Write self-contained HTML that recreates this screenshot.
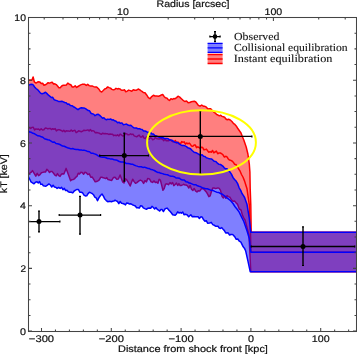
<!DOCTYPE html>
<html><head><meta charset="utf-8"><style>
html,body{margin:0;padding:0;background:#fff;width:357px;height:354px;overflow:hidden}
svg{display:block;will-change:transform}
</style></head><body>
<svg width="357" height="354" viewBox="0 0 357 354"><defs><clipPath id="ax"><rect x="28.5" y="17.5" width="328" height="314"/></clipPath></defs><g clip-path="url(#ax)"><path d="M28.00,80.60 L29.95,80.06 L31.90,80.30 L33.10,77.00 L34.30,81.80 L36.00,83.10 L37.95,81.83 L39.90,82.10 L41.27,83.47 L42.63,83.23 L44.00,85.20 L45.38,84.76 L46.76,83.86 L48.14,82.67 L49.52,83.14 L50.90,82.60 L52.23,82.31 L53.56,83.91 L54.89,83.84 L56.21,84.61 L57.54,86.08 L58.87,87.69 L60.20,87.70 L61.72,85.95 L63.24,85.25 L64.76,85.22 L66.28,85.00 L67.80,83.10 L69.30,84.22 L70.80,84.77 L72.30,87.00 L73.80,86.90 L75.20,85.77 L76.60,87.42 L78.00,86.50 L79.36,85.60 L80.72,84.84 L82.08,84.34 L83.44,84.32 L84.80,84.30 L86.26,85.37 L87.71,84.34 L89.17,85.59 L90.63,86.09 L92.09,85.88 L93.54,86.63 L95.00,86.90 L96.34,86.96 L97.68,87.97 L99.02,89.31 L100.36,91.38 L101.70,92.00 L103.20,90.57 L104.70,89.04 L106.20,88.36 L107.70,86.90 L109.10,87.63 L110.50,88.13 L111.90,89.40 L113.26,89.89 L114.62,89.52 L115.98,88.36 L117.34,88.92 L118.70,88.60 L120.12,89.07 L121.53,90.26 L122.95,90.35 L124.37,89.80 L125.78,91.74 L127.20,91.10 L128.72,90.10 L130.24,90.60 L131.76,91.19 L133.28,89.69 L134.80,90.30 L136.50,90.14 L138.20,89.02 L139.90,89.90 L141.60,91.24 L143.30,92.42 L145.00,92.80 L146.67,94.93 L148.33,97.56 L150.00,98.70 L151.70,96.59 L153.40,95.30 L155.10,96.03 L156.80,96.11 L158.50,96.20 L159.90,95.81 L161.30,94.97 L162.70,94.50 L164.06,96.43 L165.42,97.84 L166.78,97.98 L168.14,99.58 L169.50,100.40 L170.92,98.73 L172.33,99.44 L173.75,98.62 L175.17,98.68 L176.58,97.61 L178.00,96.20 L179.70,97.09 L181.40,98.68 L183.10,100.30 L184.80,101.50 L186.50,100.92 L188.20,102.80 L189.72,102.56 L191.24,101.75 L192.76,101.48 L194.28,101.19 L195.80,102.00 L198.30,105.30 L200.00,106.19 L201.70,105.08 L203.40,106.20 L204.90,106.27 L206.40,107.21 L207.90,108.89 L209.40,108.70 L210.88,108.85 L212.35,110.74 L213.83,112.03 L215.30,113.00 L216.64,114.52 L217.98,115.06 L219.32,115.84 L220.66,115.23 L222.00,116.40 L223.32,116.79 L224.64,117.25 L225.96,118.99 L227.28,119.73 L228.60,119.30 L230.27,119.97 L231.93,121.45 L233.60,123.60 L234.90,124.48 L236.20,125.95 L237.50,128.00 L239.25,130.47 L241.00,133.00 L242.40,136.70 L243.80,140.00 L246.20,147.00 L247.90,154.00 L249.30,164.00 L249.90,172.00 L250.20,188.80 L250.80,205.00 L251.20,232.30 L357.00,232.30 L357.00,271.70 L250.80,271.70 L249.00,235.00 L247.67,230.00 L246.33,225.00 L245.00,220.00 L243.67,217.91 L242.33,214.87 L241.00,210.00 L239.30,209.02 L237.60,204.40 L236.07,202.86 L234.53,201.09 L233.00,201.30 L231.43,199.78 L229.87,197.23 L228.30,196.60 L227.06,195.60 L225.82,198.34 L224.58,195.74 L223.34,197.94 L222.10,196.60 L220.50,190.40 L219.22,188.42 L217.93,187.83 L216.65,188.35 L215.37,188.58 L214.08,187.93 L212.80,188.10 L211.50,191.29 L210.20,195.76 L208.90,196.60 L207.60,194.10 L206.30,191.96 L205.00,190.40 L203.20,188.76 L201.40,188.80 L199.93,190.91 L198.45,190.65 L196.97,192.01 L195.50,190.80 L194.17,188.45 L192.83,190.49 L191.50,189.30 L190.17,185.47 L188.83,187.99 L187.50,185.80 L186.28,185.03 L185.05,185.10 L183.82,184.25 L182.60,184.86 L181.38,185.42 L180.15,185.54 L178.92,183.55 L177.70,185.50 L176.42,183.12 L175.13,184.48 L173.85,185.64 L172.57,182.49 L171.28,183.90 L170.00,182.60 L168.50,184.71 L167.00,183.77 L165.50,184.30 L164.20,188.53 L162.90,190.20 L161.65,185.15 L160.40,180.10 L159.15,179.26 L157.90,183.16 L156.65,182.07 L155.40,182.60 L153.97,180.90 L152.53,182.39 L151.10,181.80 L149.45,178.94 L147.80,178.40 L146.40,181.85 L145.00,180.57 L143.60,183.40 L141.95,180.82 L140.30,180.10 L138.60,181.15 L136.90,182.60 L135.50,183.34 L134.10,181.61 L132.70,179.20 L131.45,182.60 L130.20,186.00 L128.55,182.89 L126.90,180.10 L125.47,178.74 L124.03,182.98 L122.60,181.80 L121.35,178.40 L120.10,175.00 L118.40,179.01 L116.70,179.20 L115.05,177.20 L113.40,177.60 L111.70,180.42 L110.00,180.10 L108.00,179.60 L106.80,177.61 L105.60,178.55 L104.40,178.08 L103.20,177.83 L102.00,177.30 L100.64,177.36 L99.28,179.80 L97.92,180.77 L96.56,181.59 L95.20,181.80 L93.73,179.38 L92.27,177.04 L90.80,177.30 L89.30,173.85 L87.80,174.57 L86.30,172.80 L84.94,172.26 L83.58,174.25 L82.22,172.54 L80.86,172.35 L79.50,174.00 L78.23,173.27 L76.96,176.49 L75.69,177.34 L74.41,178.90 L73.14,179.52 L71.87,179.66 L70.60,180.70 L69.10,176.60 L67.60,172.50 L66.10,168.40 L63.90,174.00 L62.61,173.69 L61.33,174.29 L60.04,176.37 L58.76,175.59 L57.47,173.61 L56.19,175.86 L54.90,175.10 L53.56,173.26 L52.22,171.60 L50.88,171.41 L49.54,172.45 L48.20,170.60 L46.84,169.30 L45.48,172.12 L44.12,172.06 L42.76,172.37 L41.40,172.80 L40.00,174.64 L38.60,175.69 L37.20,173.36 L35.80,176.20 L34.15,173.36 L32.50,170.60 L31.00,172.46 L29.50,173.37 L28.00,174.00 Z" fill="#ff0000" fill-opacity="0.5" stroke="none"/><path d="M28.00,80.60 L29.95,80.06 L31.90,80.30 L33.10,77.00 L34.30,81.80 L36.00,83.10 L37.95,81.83 L39.90,82.10 L41.27,83.47 L42.63,83.23 L44.00,85.20 L45.38,84.76 L46.76,83.86 L48.14,82.67 L49.52,83.14 L50.90,82.60 L52.23,82.31 L53.56,83.91 L54.89,83.84 L56.21,84.61 L57.54,86.08 L58.87,87.69 L60.20,87.70 L61.72,85.95 L63.24,85.25 L64.76,85.22 L66.28,85.00 L67.80,83.10 L69.30,84.22 L70.80,84.77 L72.30,87.00 L73.80,86.90 L75.20,85.77 L76.60,87.42 L78.00,86.50 L79.36,85.60 L80.72,84.84 L82.08,84.34 L83.44,84.32 L84.80,84.30 L86.26,85.37 L87.71,84.34 L89.17,85.59 L90.63,86.09 L92.09,85.88 L93.54,86.63 L95.00,86.90 L96.34,86.96 L97.68,87.97 L99.02,89.31 L100.36,91.38 L101.70,92.00 L103.20,90.57 L104.70,89.04 L106.20,88.36 L107.70,86.90 L109.10,87.63 L110.50,88.13 L111.90,89.40 L113.26,89.89 L114.62,89.52 L115.98,88.36 L117.34,88.92 L118.70,88.60 L120.12,89.07 L121.53,90.26 L122.95,90.35 L124.37,89.80 L125.78,91.74 L127.20,91.10 L128.72,90.10 L130.24,90.60 L131.76,91.19 L133.28,89.69 L134.80,90.30 L136.50,90.14 L138.20,89.02 L139.90,89.90 L141.60,91.24 L143.30,92.42 L145.00,92.80 L146.67,94.93 L148.33,97.56 L150.00,98.70 L151.70,96.59 L153.40,95.30 L155.10,96.03 L156.80,96.11 L158.50,96.20 L159.90,95.81 L161.30,94.97 L162.70,94.50 L164.06,96.43 L165.42,97.84 L166.78,97.98 L168.14,99.58 L169.50,100.40 L170.92,98.73 L172.33,99.44 L173.75,98.62 L175.17,98.68 L176.58,97.61 L178.00,96.20 L179.70,97.09 L181.40,98.68 L183.10,100.30 L184.80,101.50 L186.50,100.92 L188.20,102.80 L189.72,102.56 L191.24,101.75 L192.76,101.48 L194.28,101.19 L195.80,102.00 L198.30,105.30 L200.00,106.19 L201.70,105.08 L203.40,106.20 L204.90,106.27 L206.40,107.21 L207.90,108.89 L209.40,108.70 L210.88,108.85 L212.35,110.74 L213.83,112.03 L215.30,113.00 L216.64,114.52 L217.98,115.06 L219.32,115.84 L220.66,115.23 L222.00,116.40 L223.32,116.79 L224.64,117.25 L225.96,118.99 L227.28,119.73 L228.60,119.30 L230.27,119.97 L231.93,121.45 L233.60,123.60 L234.90,124.48 L236.20,125.95 L237.50,128.00 L239.25,130.47 L241.00,133.00 L242.40,136.70 L243.80,140.00 L246.20,147.00 L247.90,154.00 L249.30,164.00 L249.90,172.00 L250.20,188.80 L250.80,205.00 L251.20,232.30 L357.00,232.30" fill="none" stroke="#ff0000" stroke-width="1.5" stroke-linejoin="round"/><path d="M28.00,127.90 L29.32,127.65 L30.63,128.37 L31.95,127.37 L33.27,127.21 L34.58,130.05 L35.90,128.90 L37.22,129.32 L38.54,128.97 L39.87,130.11 L41.19,128.71 L42.51,129.94 L43.83,129.81 L45.16,128.09 L46.48,128.21 L47.80,128.90 L49.02,128.45 L50.25,128.42 L51.48,129.52 L52.70,128.73 L53.92,129.30 L55.15,128.62 L56.38,130.92 L57.60,129.90 L58.84,129.62 L60.08,130.03 L61.31,130.51 L62.55,131.53 L63.79,130.30 L65.03,131.82 L66.26,130.78 L67.50,130.90 L68.74,131.11 L69.97,131.22 L71.21,129.93 L72.45,131.23 L73.69,130.64 L74.93,130.26 L76.16,132.61 L77.40,131.90 L78.71,130.73 L80.03,131.33 L81.34,131.78 L82.65,131.06 L83.96,130.16 L85.28,130.45 L86.59,130.31 L87.90,129.90 L89.14,131.06 L90.38,129.52 L91.61,131.16 L92.85,130.65 L94.09,131.09 L95.33,132.84 L96.56,132.46 L97.80,132.80 L99.02,133.10 L100.25,133.78 L101.47,134.33 L102.70,133.14 L103.92,133.74 L105.15,133.57 L106.38,133.71 L107.60,133.80 L108.84,134.46 L110.07,133.92 L111.31,134.27 L112.55,134.24 L113.79,135.66 L115.03,135.11 L116.26,135.73 L117.50,134.80 L118.81,136.04 L120.12,134.13 L121.44,134.97 L122.75,136.04 L124.06,135.75 L125.38,133.78 L126.69,133.74 L128.00,134.80 L129.24,134.76 L130.47,133.85 L131.71,134.45 L132.95,134.10 L134.19,135.90 L135.43,136.35 L136.66,136.79 L137.90,135.80 L139.14,135.08 L140.38,136.91 L141.61,137.00 L142.85,135.80 L144.09,138.12 L145.33,138.61 L146.56,136.76 L147.80,137.80 L149.03,139.19 L150.25,137.77 L151.47,138.14 L152.70,139.67 L153.93,139.36 L155.15,137.60 L156.38,138.48 L157.60,138.80 L158.84,139.09 L160.07,138.85 L161.31,138.70 L162.55,139.29 L163.79,140.67 L165.03,138.95 L166.26,140.70 L167.50,140.80 L168.81,140.78 L170.12,139.75 L171.44,140.78 L172.75,141.75 L174.06,141.58 L175.38,140.48 L176.69,143.21 L178.00,142.00 L179.24,143.03 L180.47,143.77 L181.71,141.57 L182.95,142.24 L184.19,141.84 L185.43,144.13 L186.66,142.93 L187.90,143.80 L189.14,143.14 L190.38,144.33 L191.61,146.08 L192.85,146.19 L194.09,145.00 L195.33,145.07 L196.56,147.60 L197.80,146.80 L199.03,147.50 L200.25,148.36 L201.47,147.15 L202.70,147.56 L203.93,149.83 L205.15,149.59 L206.38,149.10 L207.60,150.80 L208.83,152.23 L210.07,151.58 L211.30,152.24 L212.53,150.43 L213.77,152.80 L215.00,152.00 L216.36,151.15 L217.72,153.74 L219.08,152.95 L220.44,152.99 L221.80,153.80 L223.10,154.99 L224.40,157.07 L225.70,156.27 L227.00,156.92 L228.30,159.00 L229.54,160.12 L230.78,160.35 L232.02,161.03 L233.26,162.21 L234.50,164.20 L235.90,164.54 L237.30,166.56 L238.70,169.00 L240.10,171.22 L241.50,174.50 L243.05,177.25 L244.60,181.10 L245.80,184.95 L247.00,188.80 L249.30,205.00 L250.50,232.30 L250.90,252.20 L357.00,252.20" fill="none" stroke="#ff0000" stroke-width="1.5" stroke-linejoin="round"/><path d="M28.00,174.00 L29.50,173.37 L31.00,172.46 L32.50,170.60 L34.15,173.36 L35.80,176.20 L37.20,173.36 L38.60,175.69 L40.00,174.64 L41.40,172.80 L42.76,172.37 L44.12,172.06 L45.48,172.12 L46.84,169.30 L48.20,170.60 L49.54,172.45 L50.88,171.41 L52.22,171.60 L53.56,173.26 L54.90,175.10 L56.19,175.86 L57.47,173.61 L58.76,175.59 L60.04,176.37 L61.33,174.29 L62.61,173.69 L63.90,174.00 L66.10,168.40 L67.60,172.50 L69.10,176.60 L70.60,180.70 L71.87,179.66 L73.14,179.52 L74.41,178.90 L75.69,177.34 L76.96,176.49 L78.23,173.27 L79.50,174.00 L80.86,172.35 L82.22,172.54 L83.58,174.25 L84.94,172.26 L86.30,172.80 L87.80,174.57 L89.30,173.85 L90.80,177.30 L92.27,177.04 L93.73,179.38 L95.20,181.80 L96.56,181.59 L97.92,180.77 L99.28,179.80 L100.64,177.36 L102.00,177.30 L103.20,177.83 L104.40,178.08 L105.60,178.55 L106.80,177.61 L108.00,179.60 L110.00,180.10 L111.70,180.42 L113.40,177.60 L115.05,177.20 L116.70,179.20 L118.40,179.01 L120.10,175.00 L121.35,178.40 L122.60,181.80 L124.03,182.98 L125.47,178.74 L126.90,180.10 L128.55,182.89 L130.20,186.00 L131.45,182.60 L132.70,179.20 L134.10,181.61 L135.50,183.34 L136.90,182.60 L138.60,181.15 L140.30,180.10 L141.95,180.82 L143.60,183.40 L145.00,180.57 L146.40,181.85 L147.80,178.40 L149.45,178.94 L151.10,181.80 L152.53,182.39 L153.97,180.90 L155.40,182.60 L156.65,182.07 L157.90,183.16 L159.15,179.26 L160.40,180.10 L161.65,185.15 L162.90,190.20 L164.20,188.53 L165.50,184.30 L167.00,183.77 L168.50,184.71 L170.00,182.60 L171.28,183.90 L172.57,182.49 L173.85,185.64 L175.13,184.48 L176.42,183.12 L177.70,185.50 L178.92,183.55 L180.15,185.54 L181.38,185.42 L182.60,184.86 L183.82,184.25 L185.05,185.10 L186.28,185.03 L187.50,185.80 L188.83,187.99 L190.17,185.47 L191.50,189.30 L192.83,190.49 L194.17,188.45 L195.50,190.80 L196.97,192.01 L198.45,190.65 L199.93,190.91 L201.40,188.80 L203.20,188.76 L205.00,190.40 L206.30,191.96 L207.60,194.10 L208.90,196.60 L210.20,195.76 L211.50,191.29 L212.80,188.10 L214.08,187.93 L215.37,188.58 L216.65,188.35 L217.93,187.83 L219.22,188.42 L220.50,190.40 L222.10,196.60 L223.34,197.94 L224.58,195.74 L225.82,198.34 L227.06,195.60 L228.30,196.60 L229.87,197.23 L231.43,199.78 L233.00,201.30 L234.53,201.09 L236.07,202.86 L237.60,204.40 L239.30,209.02 L241.00,210.00 L242.33,214.87 L243.67,217.91 L245.00,220.00 L246.33,225.00 L247.67,230.00 L249.00,235.00 L250.80,271.70 L357.00,271.70" fill="none" stroke="#ff0000" stroke-width="1.5" stroke-linejoin="round"/><path d="M28.00,85.60 L29.90,84.57 L31.80,84.30 L33.20,84.91 L34.60,86.97 L36.00,88.50 L37.50,89.59 L39.00,91.21 L40.50,93.12 L42.00,93.70 L43.75,93.25 L45.50,92.20 L47.00,93.62 L48.50,95.19 L50.00,96.40 L51.36,97.52 L52.72,97.37 L54.08,99.56 L55.44,100.21 L56.80,100.60 L58.50,101.43 L60.20,101.54 L61.90,101.30 L63.32,101.83 L64.73,102.54 L66.15,102.77 L67.57,104.31 L68.98,104.10 L70.40,105.50 L71.92,105.65 L73.44,106.71 L74.96,107.48 L76.48,108.60 L78.00,109.70 L79.67,108.42 L81.33,107.77 L83.00,108.00 L84.30,108.09 L85.60,108.66 L86.90,109.73 L88.20,110.60 L89.56,110.86 L90.92,113.24 L92.28,113.84 L93.64,114.12 L95.00,115.70 L96.65,114.60 L98.30,114.30 L99.73,115.36 L101.17,116.68 L102.60,118.20 L103.93,117.84 L105.26,119.24 L106.59,119.72 L107.91,119.12 L109.24,119.39 L110.57,118.99 L111.90,119.90 L113.32,119.83 L114.73,120.78 L116.15,121.22 L117.57,122.69 L118.98,122.19 L120.40,123.30 L121.92,122.88 L123.44,124.70 L124.96,124.37 L126.48,124.09 L128.00,125.00 L129.42,125.57 L130.83,125.24 L132.25,126.54 L133.67,127.77 L135.08,128.08 L136.50,128.00 L137.92,128.81 L139.33,128.62 L140.75,129.29 L142.17,129.47 L143.58,130.94 L145.00,131.00 L146.40,131.55 L147.80,132.45 L149.20,132.23 L150.60,132.56 L152.00,134.00 L153.40,134.00 L154.77,135.41 L156.13,135.83 L157.50,136.39 L158.87,137.04 L160.23,137.55 L161.60,137.80 L162.92,137.70 L164.23,138.49 L165.55,138.57 L166.87,138.38 L168.18,138.71 L169.50,139.80 L170.92,139.93 L172.33,140.38 L173.75,141.56 L175.17,142.46 L176.58,142.13 L178.00,142.70 L179.41,144.13 L180.83,144.94 L182.24,145.61 L183.66,145.40 L185.07,145.90 L186.49,146.63 L187.90,147.80 L189.31,148.16 L190.73,149.01 L192.14,150.53 L193.56,151.81 L194.97,152.56 L196.39,152.82 L197.80,153.70 L199.24,154.50 L200.68,155.30 L202.12,154.72 L203.56,156.20 L205.00,156.50 L206.30,157.74 L207.60,158.12 L208.90,158.65 L210.20,158.80 L211.50,158.90 L212.80,160.00 L214.34,161.36 L215.88,161.53 L217.42,163.18 L218.96,164.35 L220.50,164.50 L221.80,165.30 L223.10,166.28 L224.40,168.11 L225.70,168.73 L227.00,168.81 L228.30,170.30 L229.86,171.86 L231.42,174.06 L232.98,177.43 L234.54,179.43 L236.10,181.10 L237.63,183.63 L239.17,187.82 L240.70,190.40 L242.00,193.54 L243.30,195.38 L244.60,197.50 L247.00,204.30 L249.30,218.30 L250.80,232.30 L357.00,232.30 L357.00,271.70 L250.20,271.70 L247.90,260.80 L245.60,250.70 L244.40,248.13 L243.20,246.80 L240.90,242.10 L239.35,241.20 L237.80,239.00 L236.25,239.32 L234.70,236.70 L233.42,235.17 L232.14,234.41 L230.86,234.46 L229.58,235.05 L228.30,233.10 L227.00,232.78 L225.70,233.00 L224.40,230.62 L223.10,229.33 L221.80,227.62 L220.50,228.40 L219.26,228.10 L218.02,226.28 L216.78,226.18 L215.54,226.19 L214.30,225.30 L212.77,224.61 L211.23,222.39 L209.70,223.00 L207.60,223.20 L206.28,220.68 L204.96,221.28 L203.64,219.80 L202.32,217.29 L201.00,216.80 L199.40,218.50 L198.07,216.74 L196.73,216.74 L195.40,216.80 L193.87,216.60 L192.33,216.81 L190.80,214.80 L188.70,216.80 L187.00,214.69 L185.30,214.30 L184.03,214.79 L182.77,211.99 L181.50,213.21 L180.23,212.50 L178.97,213.06 L177.70,211.80 L176.45,213.97 L175.20,215.20 L173.95,214.98 L172.70,214.76 L171.45,213.01 L170.20,211.50 L168.60,209.87 L167.00,208.10 L165.20,208.69 L163.40,211.50 L162.17,209.60 L160.93,209.40 L159.70,211.06 L158.47,210.04 L157.23,209.29 L156.00,207.60 L154.67,209.07 L153.33,207.45 L152.00,206.30 L150.67,208.28 L149.33,208.01 L148.00,208.20 L146.43,209.33 L144.87,208.60 L143.30,207.80 L141.97,206.00 L140.63,205.67 L139.30,208.09 L137.97,207.72 L136.63,207.75 L135.30,206.00 L133.83,205.35 L132.35,204.73 L130.88,203.77 L129.40,204.10 L128.08,203.23 L126.77,202.92 L125.45,204.86 L124.13,203.98 L122.82,203.44 L121.50,203.30 L120.17,201.50 L118.83,203.60 L117.50,201.50 L116.28,200.81 L115.05,200.15 L113.83,201.06 L112.60,201.21 L111.38,201.70 L110.15,201.37 L108.92,201.40 L107.70,201.70 L106.28,200.57 L104.85,199.09 L103.42,196.15 L102.00,194.00 L100.50,195.46 L99.00,197.63 L97.50,200.70 L96.16,197.83 L94.82,197.07 L93.48,194.71 L92.14,193.48 L90.80,192.90 L89.44,192.19 L88.08,193.62 L86.72,195.81 L85.36,195.96 L84.00,195.10 L82.60,192.80 L81.20,192.29 L79.80,192.20 L78.40,189.50 L77.00,189.42 L75.60,190.12 L74.20,190.99 L72.80,192.90 L71.30,192.20 L69.80,192.35 L68.30,191.80 L66.96,190.26 L65.62,190.50 L64.28,188.33 L62.94,189.72 L61.60,187.30 L60.10,188.43 L58.60,187.39 L57.10,188.40 L55.76,187.22 L54.42,186.95 L53.08,185.17 L51.74,187.05 L50.40,185.00 L48.90,183.96 L47.40,185.12 L45.90,186.20 L44.63,186.02 L43.36,185.72 L42.09,184.11 L40.81,184.37 L39.54,181.54 L38.27,183.05 L37.00,181.70 L35.50,182.22 L34.00,183.84 L32.50,182.80 L31.00,181.89 L29.50,178.75 L28.00,176.10 Z" fill="#0000ff" fill-opacity="0.5" stroke="none"/><path d="M28.00,85.60 L29.90,84.57 L31.80,84.30 L33.20,84.91 L34.60,86.97 L36.00,88.50 L37.50,89.59 L39.00,91.21 L40.50,93.12 L42.00,93.70 L43.75,93.25 L45.50,92.20 L47.00,93.62 L48.50,95.19 L50.00,96.40 L51.36,97.52 L52.72,97.37 L54.08,99.56 L55.44,100.21 L56.80,100.60 L58.50,101.43 L60.20,101.54 L61.90,101.30 L63.32,101.83 L64.73,102.54 L66.15,102.77 L67.57,104.31 L68.98,104.10 L70.40,105.50 L71.92,105.65 L73.44,106.71 L74.96,107.48 L76.48,108.60 L78.00,109.70 L79.67,108.42 L81.33,107.77 L83.00,108.00 L84.30,108.09 L85.60,108.66 L86.90,109.73 L88.20,110.60 L89.56,110.86 L90.92,113.24 L92.28,113.84 L93.64,114.12 L95.00,115.70 L96.65,114.60 L98.30,114.30 L99.73,115.36 L101.17,116.68 L102.60,118.20 L103.93,117.84 L105.26,119.24 L106.59,119.72 L107.91,119.12 L109.24,119.39 L110.57,118.99 L111.90,119.90 L113.32,119.83 L114.73,120.78 L116.15,121.22 L117.57,122.69 L118.98,122.19 L120.40,123.30 L121.92,122.88 L123.44,124.70 L124.96,124.37 L126.48,124.09 L128.00,125.00 L129.42,125.57 L130.83,125.24 L132.25,126.54 L133.67,127.77 L135.08,128.08 L136.50,128.00 L137.92,128.81 L139.33,128.62 L140.75,129.29 L142.17,129.47 L143.58,130.94 L145.00,131.00 L146.40,131.55 L147.80,132.45 L149.20,132.23 L150.60,132.56 L152.00,134.00 L153.40,134.00 L154.77,135.41 L156.13,135.83 L157.50,136.39 L158.87,137.04 L160.23,137.55 L161.60,137.80 L162.92,137.70 L164.23,138.49 L165.55,138.57 L166.87,138.38 L168.18,138.71 L169.50,139.80 L170.92,139.93 L172.33,140.38 L173.75,141.56 L175.17,142.46 L176.58,142.13 L178.00,142.70 L179.41,144.13 L180.83,144.94 L182.24,145.61 L183.66,145.40 L185.07,145.90 L186.49,146.63 L187.90,147.80 L189.31,148.16 L190.73,149.01 L192.14,150.53 L193.56,151.81 L194.97,152.56 L196.39,152.82 L197.80,153.70 L199.24,154.50 L200.68,155.30 L202.12,154.72 L203.56,156.20 L205.00,156.50 L206.30,157.74 L207.60,158.12 L208.90,158.65 L210.20,158.80 L211.50,158.90 L212.80,160.00 L214.34,161.36 L215.88,161.53 L217.42,163.18 L218.96,164.35 L220.50,164.50 L221.80,165.30 L223.10,166.28 L224.40,168.11 L225.70,168.73 L227.00,168.81 L228.30,170.30 L229.86,171.86 L231.42,174.06 L232.98,177.43 L234.54,179.43 L236.10,181.10 L237.63,183.63 L239.17,187.82 L240.70,190.40 L242.00,193.54 L243.30,195.38 L244.60,197.50 L247.00,204.30 L249.30,218.30 L250.80,232.30 L357.00,232.30" fill="none" stroke="#0000ff" stroke-width="1.5" stroke-linejoin="round"/><path d="M28.00,130.90 L29.65,132.03 L31.30,132.28 L32.95,133.35 L34.60,133.78 L36.25,134.80 L37.90,135.80 L39.55,135.89 L41.20,136.83 L42.85,137.22 L44.50,138.75 L46.15,139.19 L47.80,139.80 L49.43,140.08 L51.07,141.07 L52.70,142.27 L54.33,141.93 L55.97,143.43 L57.60,143.70 L59.25,144.29 L60.90,145.03 L62.55,146.10 L64.20,146.24 L65.85,147.04 L67.50,147.70 L69.25,148.23 L71.00,148.88 L72.75,148.41 L74.50,149.30 L76.25,149.45 L78.00,149.50 L79.65,150.01 L81.30,150.09 L82.95,150.37 L84.60,150.37 L86.25,150.81 L87.90,151.60 L89.55,151.75 L91.20,153.22 L92.85,153.31 L94.50,153.86 L96.15,154.43 L97.80,155.60 L99.43,156.49 L101.07,157.01 L102.70,157.25 L104.33,157.27 L105.97,157.71 L107.60,158.50 L109.25,158.59 L110.90,159.12 L112.55,159.09 L114.20,159.77 L115.85,159.88 L117.50,160.50 L119.25,161.55 L121.00,162.07 L122.75,162.06 L124.50,162.19 L126.25,163.56 L128.00,163.50 L129.65,163.75 L131.30,164.29 L132.95,164.35 L134.60,165.29 L136.25,165.89 L137.90,166.40 L139.55,166.74 L141.20,166.71 L142.85,167.41 L144.50,167.14 L146.15,167.78 L147.80,168.40 L149.43,168.57 L151.07,169.61 L152.70,169.85 L154.33,170.49 L155.97,171.50 L157.60,172.40 L159.25,172.48 L160.90,173.30 L162.55,173.64 L164.20,174.30 L165.85,174.59 L167.50,174.80 L169.20,175.58 L170.90,176.29 L172.60,176.22 L174.30,176.66 L176.00,177.97 L177.70,177.90 L179.33,178.15 L180.97,179.50 L182.60,180.07 L184.23,180.02 L185.87,181.64 L187.50,181.90 L189.15,183.02 L190.80,183.35 L192.45,184.13 L194.10,184.87 L195.75,184.72 L197.40,185.80 L199.05,186.33 L200.70,186.81 L202.35,187.70 L204.00,188.17 L205.65,188.69 L207.30,188.80 L209.13,189.43 L210.97,190.34 L212.80,190.40 L214.73,191.39 L216.65,192.18 L218.57,192.40 L220.50,193.50 L222.45,194.29 L224.40,195.76 L226.35,197.38 L228.30,198.90 L230.65,200.73 L233.00,203.50 L235.07,206.77 L237.13,209.30 L239.20,212.10 L241.50,216.90 L243.80,221.40 L247.00,230.70 L249.30,238.50 L250.80,252.20 L357.00,252.20" fill="none" stroke="#0000ff" stroke-width="1.5" stroke-linejoin="round"/><path d="M28.00,176.10 L29.50,178.75 L31.00,181.89 L32.50,182.80 L34.00,183.84 L35.50,182.22 L37.00,181.70 L38.27,183.05 L39.54,181.54 L40.81,184.37 L42.09,184.11 L43.36,185.72 L44.63,186.02 L45.90,186.20 L47.40,185.12 L48.90,183.96 L50.40,185.00 L51.74,187.05 L53.08,185.17 L54.42,186.95 L55.76,187.22 L57.10,188.40 L58.60,187.39 L60.10,188.43 L61.60,187.30 L62.94,189.72 L64.28,188.33 L65.62,190.50 L66.96,190.26 L68.30,191.80 L69.80,192.35 L71.30,192.20 L72.80,192.90 L74.20,190.99 L75.60,190.12 L77.00,189.42 L78.40,189.50 L79.80,192.20 L81.20,192.29 L82.60,192.80 L84.00,195.10 L85.36,195.96 L86.72,195.81 L88.08,193.62 L89.44,192.19 L90.80,192.90 L92.14,193.48 L93.48,194.71 L94.82,197.07 L96.16,197.83 L97.50,200.70 L99.00,197.63 L100.50,195.46 L102.00,194.00 L103.42,196.15 L104.85,199.09 L106.28,200.57 L107.70,201.70 L108.92,201.40 L110.15,201.37 L111.38,201.70 L112.60,201.21 L113.83,201.06 L115.05,200.15 L116.28,200.81 L117.50,201.50 L118.83,203.60 L120.17,201.50 L121.50,203.30 L122.82,203.44 L124.13,203.98 L125.45,204.86 L126.77,202.92 L128.08,203.23 L129.40,204.10 L130.88,203.77 L132.35,204.73 L133.83,205.35 L135.30,206.00 L136.63,207.75 L137.97,207.72 L139.30,208.09 L140.63,205.67 L141.97,206.00 L143.30,207.80 L144.87,208.60 L146.43,209.33 L148.00,208.20 L149.33,208.01 L150.67,208.28 L152.00,206.30 L153.33,207.45 L154.67,209.07 L156.00,207.60 L157.23,209.29 L158.47,210.04 L159.70,211.06 L160.93,209.40 L162.17,209.60 L163.40,211.50 L165.20,208.69 L167.00,208.10 L168.60,209.87 L170.20,211.50 L171.45,213.01 L172.70,214.76 L173.95,214.98 L175.20,215.20 L176.45,213.97 L177.70,211.80 L178.97,213.06 L180.23,212.50 L181.50,213.21 L182.77,211.99 L184.03,214.79 L185.30,214.30 L187.00,214.69 L188.70,216.80 L190.80,214.80 L192.33,216.81 L193.87,216.60 L195.40,216.80 L196.73,216.74 L198.07,216.74 L199.40,218.50 L201.00,216.80 L202.32,217.29 L203.64,219.80 L204.96,221.28 L206.28,220.68 L207.60,223.20 L209.70,223.00 L211.23,222.39 L212.77,224.61 L214.30,225.30 L215.54,226.19 L216.78,226.18 L218.02,226.28 L219.26,228.10 L220.50,228.40 L221.80,227.62 L223.10,229.33 L224.40,230.62 L225.70,233.00 L227.00,232.78 L228.30,233.10 L229.58,235.05 L230.86,234.46 L232.14,234.41 L233.42,235.17 L234.70,236.70 L236.25,239.32 L237.80,239.00 L239.35,241.20 L240.90,242.10 L243.20,246.80 L244.40,248.13 L245.60,250.70 L247.90,260.80 L250.20,271.70 L357.00,271.70" fill="none" stroke="#0000ff" stroke-width="1.5" stroke-linejoin="round"/><path d="M20,221.6 H59.9 M39,211.2 V231.9" stroke="#000" stroke-width="1.4" fill="none"/><path d="M20,220.6 V222.6 M59.9,220.6 V222.6 M38.0,211.2 H40.0 M38.0,231.9 H40.0" stroke="#000" stroke-width="1.2" fill="none"/><circle cx="39" cy="221.6" r="2.5" fill="#000"/><path d="M59.2,215.1 H100.6 M80,196.4 V234.1" stroke="#000" stroke-width="1.4" fill="none"/><path d="M59.2,214.1 V216.1 M100.6,214.1 V216.1 M79.0,196.4 H81.0 M79.0,234.1 H81.0" stroke="#000" stroke-width="1.2" fill="none"/><circle cx="80" cy="215.1" r="2.5" fill="#000"/><path d="M99.7,155.6 H148.4 M124.3,133.1 V181.1" stroke="#000" stroke-width="1.4" fill="none"/><path d="M99.7,154.6 V156.6 M148.4,154.6 V156.6 M123.3,133.1 H125.3 M123.3,181.1 H125.3" stroke="#000" stroke-width="1.2" fill="none"/><circle cx="124.3" cy="155.6" r="2.5" fill="#000"/><path d="M148.4,136.4 H251.9 M200.3,111.0 V174.2" stroke="#000" stroke-width="1.4" fill="none"/><path d="M148.4,135.4 V137.4 M251.9,135.4 V137.4 M199.3,111.0 H201.3 M199.3,174.2 H201.3" stroke="#000" stroke-width="1.2" fill="none"/><circle cx="200.3" cy="136.4" r="2.5" fill="#000"/><path d="M251.2,246.5 H354.7 M303,226.9 V265.5" stroke="#000" stroke-width="1.4" fill="none"/><path d="M251.2,245.5 V247.5 M354.7,245.5 V247.5 M302.0,226.9 H304.0 M302.0,265.5 H304.0" stroke="#000" stroke-width="1.2" fill="none"/><circle cx="303" cy="246.5" r="2.5" fill="#000"/></g><ellipse cx="201.5" cy="142.4" rx="54.4" ry="32.1" fill="none" stroke="#ffff00" stroke-width="2"/><rect x="28.5" y="17.5" width="328.0" height="314.0" fill="none" stroke="#444" stroke-width="1.05"/><path d="M41.50,331.5 v-3.5 M55.46,331.5 v-2 M69.42,331.5 v-2 M83.38,331.5 v-2 M97.34,331.5 v-2 M111.30,331.5 v-3.5 M125.26,331.5 v-2 M139.22,331.5 v-2 M153.18,331.5 v-2 M167.14,331.5 v-2 M181.10,331.5 v-3.5 M195.06,331.5 v-2 M209.02,331.5 v-2 M222.98,331.5 v-2 M236.94,331.5 v-2 M250.90,331.5 v-3.5 M264.86,331.5 v-2 M278.82,331.5 v-2 M292.78,331.5 v-2 M306.74,331.5 v-2 M320.70,331.5 v-3.5 M334.66,331.5 v-2 M348.62,331.5 v-2 M28.5,331.10 h3.5 M356.5,331.10 h-3.5 M28.5,315.42 h2 M356.5,315.42 h-2 M28.5,299.74 h2 M356.5,299.74 h-2 M28.5,284.06 h2 M356.5,284.06 h-2 M28.5,268.38 h3.5 M356.5,268.38 h-3.5 M28.5,252.70 h2 M356.5,252.70 h-2 M28.5,237.02 h2 M356.5,237.02 h-2 M28.5,221.34 h2 M356.5,221.34 h-2 M28.5,205.66 h3.5 M356.5,205.66 h-3.5 M28.5,189.98 h2 M356.5,189.98 h-2 M28.5,174.30 h2 M356.5,174.30 h-2 M28.5,158.62 h2 M356.5,158.62 h-2 M28.5,142.94 h3.5 M356.5,142.94 h-3.5 M28.5,127.26 h2 M356.5,127.26 h-2 M28.5,111.58 h2 M356.5,111.58 h-2 M28.5,95.90 h2 M356.5,95.90 h-2 M28.5,80.22 h3.5 M356.5,80.22 h-3.5 M28.5,64.54 h2 M356.5,64.54 h-2 M28.5,48.86 h2 M356.5,48.86 h-2 M28.5,33.18 h2 M356.5,33.18 h-2 M28.5,17.50 h3.5 M356.5,17.50 h-3.5 M44.21,17.5 v2 M63.01,17.5 v2 M77.59,17.5 v2 M89.51,17.5 v2 M99.59,17.5 v2 M108.32,17.5 v2 M116.01,17.5 v2 M122.90,17.5 v3.5 M168.21,17.5 v2 M194.71,17.5 v2 M213.51,17.5 v2 M228.09,17.5 v2 M240.01,17.5 v2 M250.09,17.5 v2 M258.82,17.5 v2 M266.51,17.5 v2 M273.40,17.5 v3.5 M318.71,17.5 v2 M345.21,17.5 v2" stroke="#444" stroke-width="1.05" fill="none"/><text x="26.00" y="334.70" text-anchor="end" font-family="Liberation Sans, sans-serif" font-size="9.6" fill="#111" stroke="#111" stroke-width="0.2" text-rendering="geometricPrecision" textLength="5.99" lengthAdjust="spacingAndGlyphs">0</text><text x="26.00" y="271.98" text-anchor="end" font-family="Liberation Sans, sans-serif" font-size="9.6" fill="#111" stroke="#111" stroke-width="0.2" text-rendering="geometricPrecision" textLength="5.56" lengthAdjust="spacingAndGlyphs">2</text><text x="26.00" y="209.26" text-anchor="end" font-family="Liberation Sans, sans-serif" font-size="9.6" fill="#111" stroke="#111" stroke-width="0.2" text-rendering="geometricPrecision" textLength="5.88" lengthAdjust="spacingAndGlyphs">4</text><text x="26.00" y="146.54" text-anchor="end" font-family="Liberation Sans, sans-serif" font-size="9.6" fill="#111" stroke="#111" stroke-width="0.2" text-rendering="geometricPrecision" textLength="5.88" lengthAdjust="spacingAndGlyphs">6</text><text x="26.00" y="83.82" text-anchor="end" font-family="Liberation Sans, sans-serif" font-size="9.6" fill="#111" stroke="#111" stroke-width="0.2" text-rendering="geometricPrecision" textLength="5.88" lengthAdjust="spacingAndGlyphs">8</text><text x="26.00" y="21.10" text-anchor="end" font-family="Liberation Sans, sans-serif" font-size="9.6" fill="#111" stroke="#111" stroke-width="0.2" text-rendering="geometricPrecision" textLength="11.62" lengthAdjust="spacingAndGlyphs">10</text><text x="41.50" y="341.80" text-anchor="middle" font-family="Liberation Sans, sans-serif" font-size="9.6" fill="#111" stroke="#111" stroke-width="0.2" text-rendering="geometricPrecision" textLength="25.22" lengthAdjust="spacingAndGlyphs">−300</text><text x="111.30" y="341.80" text-anchor="middle" font-family="Liberation Sans, sans-serif" font-size="9.6" fill="#111" stroke="#111" stroke-width="0.2" text-rendering="geometricPrecision" textLength="25.22" lengthAdjust="spacingAndGlyphs">−200</text><text x="181.10" y="341.80" text-anchor="middle" font-family="Liberation Sans, sans-serif" font-size="9.6" fill="#111" stroke="#111" stroke-width="0.2" text-rendering="geometricPrecision" textLength="25.22" lengthAdjust="spacingAndGlyphs">−100</text><text x="250.90" y="341.80" text-anchor="middle" font-family="Liberation Sans, sans-serif" font-size="9.6" fill="#111" stroke="#111" stroke-width="0.2" text-rendering="geometricPrecision" textLength="6.01" lengthAdjust="spacingAndGlyphs">0</text><text x="320.70" y="341.80" text-anchor="middle" font-family="Liberation Sans, sans-serif" font-size="9.6" fill="#111" stroke="#111" stroke-width="0.2" text-rendering="geometricPrecision" textLength="17.78" lengthAdjust="spacingAndGlyphs">100</text><text x="122.90" y="15.25" text-anchor="middle" font-family="Liberation Sans, sans-serif" font-size="9.6" fill="#111" stroke="#111" stroke-width="0.2" text-rendering="geometricPrecision" textLength="11.74" lengthAdjust="spacingAndGlyphs">10</text><text x="273.40" y="15.25" text-anchor="middle" font-family="Liberation Sans, sans-serif" font-size="9.6" fill="#111" stroke="#111" stroke-width="0.2" text-rendering="geometricPrecision" textLength="17.70" lengthAdjust="spacingAndGlyphs">100</text><text x="156.50" y="6.60" text-anchor="start" font-family="Liberation Sans, sans-serif" font-size="9.6" fill="#111" stroke="#111" stroke-width="0.2" text-rendering="geometricPrecision" textLength="72.94" lengthAdjust="spacingAndGlyphs">Radius [arcsec]</text><text x="118.00" y="352.00" text-anchor="start" font-family="Liberation Sans, sans-serif" font-size="9.6" fill="#111" stroke="#111" stroke-width="0.2" text-rendering="geometricPrecision" textLength="149.88" lengthAdjust="spacingAndGlyphs">Distance from shock front [kpc]</text><text transform="translate(7.10,173.70) rotate(-90)" text-anchor="middle" font-family="Liberation Sans, sans-serif" font-size="9.6" fill="#111" stroke="#111" stroke-width="0.2" text-rendering="geometricPrecision" textLength="39.01" lengthAdjust="spacingAndGlyphs">kT [keV]</text><text x="234.00" y="40.20" text-anchor="start" font-family="Liberation Serif, serif" font-size="11" fill="#111" stroke="#111" stroke-width="0.1" text-rendering="geometricPrecision" textLength="45.49" lengthAdjust="spacingAndGlyphs">Observed</text><text x="234.00" y="51.30" text-anchor="start" font-family="Liberation Serif, serif" font-size="11" fill="#111" stroke="#111" stroke-width="0.1" text-rendering="geometricPrecision" textLength="113.58" lengthAdjust="spacingAndGlyphs">Collisional equilibration</text><text x="233.80" y="62.40" text-anchor="start" font-family="Liberation Serif, serif" font-size="11" fill="#111" stroke="#111" stroke-width="0.1" text-rendering="geometricPrecision" textLength="98.60" lengthAdjust="spacingAndGlyphs">Instant equilibration</text><path d="M209.9,36.6 H220.1 M215,31.6 V41.6" stroke="#000" stroke-width="1.4"/><path d="M209.9,35.6 V37.6 M220.1,35.6 V37.6 M214,31.6 H216 M214,41.6 H216" stroke="#000" stroke-width="1.2"/><circle cx="215" cy="36.6" r="2.3" fill="#000"/><rect x="207.6" y="43.3" width="15" height="9" fill="#0000ff" fill-opacity="0.5"/><path d="M207.6,43.3 H222.6 M207.6,47.8 H222.6 M207.6,52.3 H222.6" stroke="#0000ff" stroke-width="1.3"/><rect x="207.6" y="54.5" width="15" height="9" fill="#ff0000" fill-opacity="0.5"/><path d="M207.6,54.5 H222.6 M207.6,59 H222.6 M207.6,63.5 H222.6" stroke="#ff0000" stroke-width="1.3"/></svg>
</body></html>
